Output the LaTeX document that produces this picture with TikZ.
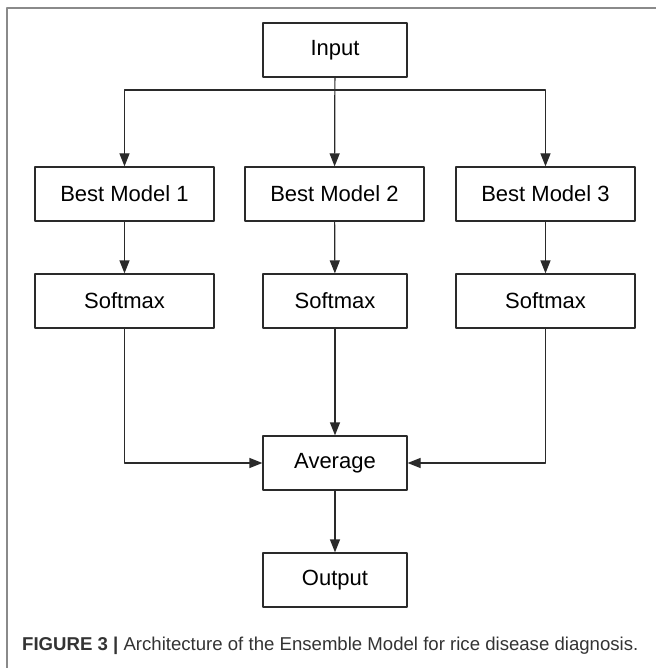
\documentclass[tikz,border=0pt]{standalone}
\usepackage{fontspec}
\setmainfont{Liberation Sans}
\usetikzlibrary{arrows.meta}
\definecolor{linegray}{HTML}{2A2A2A}
\definecolor{framegray}{HTML}{8A8A8A}
\begin{document}
\begin{tikzpicture}[x=1pt,y=-1pt,>={Triangle[length=13pt,width=10pt]},line join=round,
	box/.style={draw=linegray,line width=1.2pt,minimum height=54pt,inner sep=0pt,font=\fontsize{22}{26}\selectfont},
	wide/.style={box,minimum width=179pt},
	narrow/.style={box,minimum width=144pt},
	link/.style={->,draw=linegray,line width=1.2pt}]
	\useasboundingbox (0,0) rectangle (655,668);
	\draw[framegray,line width=1.3pt] (660,8) -- (7,8) -- (7,672);
	\node[narrow] (input) at (335,50) {Input};
	\foreach \i/\x in {1/124.5,2/334.5,3/545.5}
		\node[wide] (best\i) at (\x,194) {Best Model \i};
	\node[wide] (soft1) at (124.5,301) {Softmax};
	\node[narrow] (soft2) at (335,301) {Softmax};
	\node[wide] (soft3) at (545.5,301) {Softmax};
	\node[narrow] (avg) at (335,463) {Average};
	\node[narrow] (output) at (335,580) {Output};
	\coordinate (split) at (335,90);
	\draw[link] (input) -- (best2);
	\draw[link] (split) -| (best1);
	\draw[link] (split) -| (best3);
	\foreach \i in {1,2,3} \draw[link] (best\i) -- (soft\i);
	\draw[link] (soft1) |- (avg);
	\draw[link] (soft2) -- (avg);
	\draw[link] (soft3) |- (avg);
	\draw[link] (avg) -- (output);
	\node[anchor=west,inner sep=0pt,text=black!80,font=\fontsize{18.6}{22}\selectfont] (caption) at (22,646)
		{\textbf{FIGURE 3 |} Architecture of the Ensemble Model for rice disease diagnosis.};
\end{tikzpicture}
\end{document}
